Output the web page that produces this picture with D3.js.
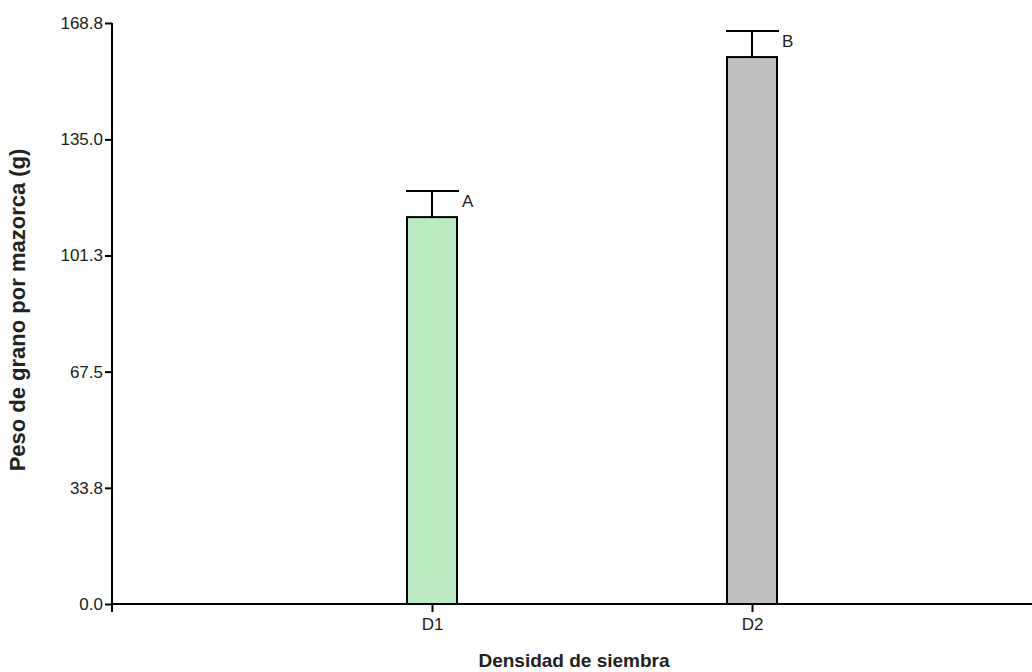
<!DOCTYPE html>
<html>
<head>
<meta charset="utf-8">
<script src="https://cdn.jsdelivr.net/npm/d3@7"></script>
<style>
  body { margin: 0; background: #fff; }
  text { font-family: "Liberation Sans", Arial, sans-serif; fill: #222; }
</style>
</head>
<body>
<svg class="chart"></svg>
<script>
// data
var categories = ["D1", "D2"];
var means = [112.4, 158.9];
var errors = [7.6, 7.6];
var letters = ["A", "B"];
var barColors = ["#bbebc3", "#c0c0c0"];
var yTicks = [0, 33.75, 67.5, 101.25, 135, 168.8];

var width = 1032, height = 672;
var margin = {top: 23, right: 0, bottom: 68, left: 112};

var chart = d3.select(".chart")
    .attr("width", width)
    .attr("height", height);

var yScale = d3.scaleLinear()
    .domain([0, 168.8])
    .range([height - margin.bottom, margin.top]);

var xScale = d3.scalePoint()
    .domain(categories)
    .range([margin.left, margin.left + 960])
    .padding(1);

var y0 = yScale(0);
var barW = 50;

// bars
chart.selectAll("rect.bar")
    .data(categories)
  .enter().append("rect")
    .attr("class", "bar")
    .attr("x", function(d) { return xScale(d) - barW / 2; })
    .attr("y", function(d, i) { return yScale(means[i]); })
    .attr("width", barW)
    .attr("height", function(d, i) { return y0 - yScale(means[i]); })
    .attr("fill", function(d, i) { return barColors[i]; })
    .attr("stroke", "#000")
    .attr("stroke-width", 2);

// error bars (upper only)
categories.forEach(function(c, i) {
  var cx = xScale(c), top = yScale(means[i] + errors[i]);
  chart.append("line")
      .attr("x1", cx).attr("x2", cx)
      .attr("y1", yScale(means[i])).attr("y2", top)
      .attr("stroke", "#000").attr("stroke-width", 2);
  chart.append("line")
      .attr("x1", cx - 26).attr("x2", cx + 27)
      .attr("y1", top).attr("y2", top)
      .attr("stroke", "#000").attr("stroke-width", 2);
  chart.append("text")
      .attr("x", cx + 30)
      .attr("y", top + 16)
      .style("font-size", "17px")
      .text(letters[i]);
});

// y axis
var yAxis = chart.append("g")
    .attr("transform", "translate(" + margin.left + ",0)")
    .call(d3.axisLeft(yScale)
      .tickValues(yTicks)
      .tickSize(7)
      .tickSizeOuter(0)
      .tickFormat(function(d) { return d.toFixed(1); }));
yAxis.select(".domain").remove();
yAxis.append("line")
    .attr("x1", 0).attr("x2", 0)
    .attr("y1", margin.top).attr("y2", y0 + 8)
    .attr("stroke", "#000").attr("stroke-width", 2);
yAxis.selectAll(".tick line").attr("stroke", "#000").attr("stroke-width", 2);
yAxis.selectAll(".tick text")
    .attr("x", -9)
    .style("font-size", "17px")
    .style("font-family", "Liberation Sans, Arial, sans-serif")
    .attr("fill", "#222");

// x axis
var xAxis = chart.append("g")
    .attr("transform", "translate(0," + y0 + ")")
    .call(d3.axisBottom(xScale).tickSize(8).tickSizeOuter(0));
xAxis.select(".domain").remove();
xAxis.append("line")
    .attr("x1", margin.left).attr("x2", width + 5)
    .attr("y1", 0).attr("y2", 0)
    .attr("stroke", "#000").attr("stroke-width", 2);
xAxis.selectAll(".tick line").attr("stroke", "#000").attr("stroke-width", 2);
xAxis.selectAll(".tick text")
    .attr("y", 14)
    .style("font-size", "17px")
    .style("font-family", "Liberation Sans, Arial, sans-serif")
    .attr("fill", "#222");

// titles
chart.append("text")
    .attr("x", (margin.left + width) / 2 + 2)
    .attr("y", 667)
    .attr("text-anchor", "middle")
    .style("font-size", "19px")
    .style("font-weight", "bold")
    .text("Densidad de siembra");

chart.append("text")
    .attr("transform", "translate(25,310) rotate(-90)")
    .attr("text-anchor", "middle")
    .style("font-size", "22px")
    .style("font-weight", "bold")
    .text("Peso de grano por mazorca (g)");
</script>
</body>
</html>
